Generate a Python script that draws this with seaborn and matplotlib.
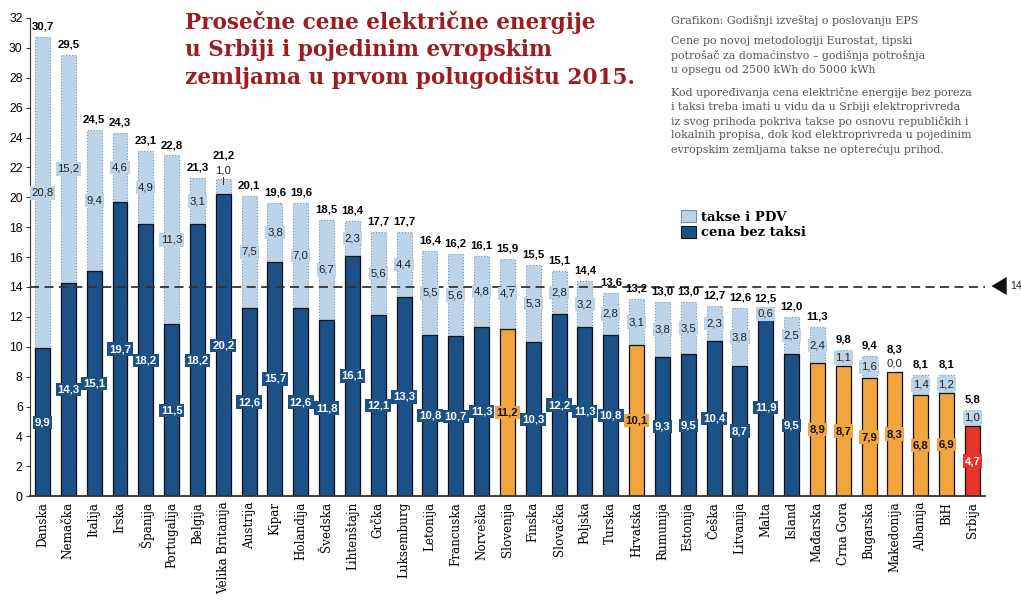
import matplotlib
matplotlib.use("Agg")
import matplotlib.pyplot as plt
import matplotlib.patches as mpatches
import seaborn as sns
import pandas as pd

# podaci sa grafikona (c/kWh), redosled kao na slici
countries = ["Danska", "Nemačka", "Italija", "Irska", "Španija", "Portugalija", "Belgija",
             "Velika Britanija", "Austrija", "Kipar", "Holandija", "Švedska", "Lihtenštajn",
             "Grčka", "Luksemburg", "Letonija", "Francuska", "Norveška", "Slovenija", "Finska",
             "Slovačka", "Poljska", "Turska", "Hrvatska", "Rumunija", "Estonija", "Češka",
             "Litvanija", "Malta", "Island", "Mađarska", "Crna Gora", "Bugarska", "Makedonija",
             "Albanija", "BiH", "Srbija"]
totals = [30.7, 29.5, 24.5, 24.3, 23.1, 22.8, 21.3, 21.2, 20.1, 19.6, 19.6, 18.5, 18.4,
          17.7, 17.7, 16.4, 16.2, 16.1, 15.9, 15.5, 15.1, 14.4, 13.6, 13.2, 13.0, 13.0, 12.7,
          12.6, 12.5, 12.0, 11.3, 9.8, 9.4, 8.3, 8.1, 8.1, 5.8]
base = [9.9, 14.3, 15.1, 19.7, 18.2, 11.5, 18.2, 20.2, 12.6, 15.7, 12.6, 11.8, 16.1,
        12.1, 13.3, 10.8, 10.7, 11.3, 11.2, 10.3, 12.2, 11.3, 10.8, 10.1, 9.3, 9.5, 10.4,
        8.7, 11.9, 9.5, 8.9, 8.7, 7.9, 8.3, 6.8, 6.9, 4.7]
taxes = [20.8, 15.2, 9.4, 4.6, 4.9, 11.3, 3.1, 1.0, 7.5, 3.8, 7.0, 6.7, 2.3,
         5.6, 4.4, 5.5, 5.6, 4.8, 4.7, 5.3, 2.8, 3.2, 2.8, 3.1, 3.8, 3.5, 2.3,
         3.8, 0.6, 2.5, 2.4, 1.1, 1.6, 0.0, 1.4, 1.2, 1.0]
groups = ["eu"] * 18 + ["reg"] + ["eu"] * 4 + ["reg"] + ["eu"] * 6 + ["reg"] * 6 + ["srb"]
average = 14

light = "#bcd4ea"
group_colors = {"eu": "#1b5186", "reg": "#f2a43f", "srb": "#e8332b"}
title_red = "#9c1c20"
lab_font = "Liberation Sans"

df = pd.DataFrame({"zemlja": countries, "ukupno": totals, "cena": base,
                   "takse": taxes, "grupa": groups})
base_palette = [group_colors[g] for g in groups]

fig = plt.figure(figsize=(10.21, 6.0), dpi=100)
ax = fig.add_axes([0.029, 0.173, 0.936, 0.797])

sns.barplot(data=df, x="zemlja", y="ukupno", color=light, width=0.58, ax=ax,
            edgecolor="#6f8fb0", linewidth=0.8, linestyle=":", saturation=1)
sns.barplot(data=df, x="zemlja", y="cena", hue="zemlja", palette=base_palette,
            legend=False, width=0.58, ax=ax, edgecolor="#111111", linewidth=0.9,
            saturation=1)

ax.set_xlim(-0.5, len(countries) - 0.5)
ax.set_ylim(0, 32)
ax.set_yticks(range(0, 33, 2))
ax.set_xlabel("")
ax.set_ylabel("")
sns.despine(ax=ax)
ax.spines["left"].set_color("#333333")
ax.spines["bottom"].set_color("#333333")
ax.spines["bottom"].set_linewidth(1.3)
ax.tick_params(axis="y", labelsize=8.8, length=3, color="#333333", pad=2)
for t in ax.get_yticklabels():
    t.set_family(lab_font)
ax.tick_params(axis="x", length=0, pad=4)
ax.set_xticks(range(len(countries)))
ax.set_xticklabels(countries, rotation=90, fontsize=8.6, family="DejaVu Serif",
                   va="top", ha="center")

ax.axhline(average, color="#333333", lw=1.3, ls=(0, (5, 3)), zorder=1.5, clip_on=False)


def fmt(v):
    return f"{v:.1f}".replace(".", ",")


lab = dict(ha="center", va="center", fontsize=8.2, family=lab_font)
for i, row in df.iterrows():
    top = row["ukupno"]
    col = group_colors[row["grupa"]]
    # oznaka ukupne cene (i taksi kad je segment premali)
    if row["zemlja"] == "Velika Britanija":
        ax.text(i, top + 0.6, fmt(row["takse"]), color="#222222", **lab)
        ax.plot([i, i], [top - 0.3, top + 0.15], color="#333333", lw=0.7)
        ax.text(i, top + 1.6, fmt(top), fontweight="bold", **lab)
    elif row["takse"] < 0.3:
        ax.text(i, top + 0.55, fmt(row["takse"]), color="#222222", **lab)
        ax.text(i, top + 1.5, fmt(top), fontweight="bold", **lab)
    else:
        ax.text(i, top + 0.7, fmt(top), fontweight="bold", **lab)
        ax.text(i, (row["cena"] + top) / 2, fmt(row["takse"]), color="#222222",
                bbox=dict(boxstyle="square,pad=0.15", fc=light, ec="none"), **lab)
    # oznaka cene bez taksi
    txt_col = "#111111" if row["grupa"] == "reg" else "white"
    ax.text(i, row["cena"] / 2, fmt(row["cena"]), color=txt_col, fontweight="bold",
            bbox=dict(boxstyle="square,pad=0.15", fc=col, ec="none"), **lab)

# strelica i oznaka proseka desno
tri = mpatches.Polygon([[0.971, 0.5233], [0.986, 0.5383], [0.986, 0.5083]], closed=True,
                       fc="#111111", ec="none", transform=fig.transFigure)
fig.patches.append(tri)
fig.text(0.989, 0.5233, "14", fontsize=7.5, va="center", ha="left", color="#222222",
         family=lab_font)

# naslov
fig.text(0.181, 0.982, "Prosečne cene električne energije\nu Srbiji i pojedinim evropskim\n"
         "zemljama u prvom polugodištu 2015.", family="DejaVu Serif", fontweight="bold",
         fontsize=15.6, color=title_red, va="top", ha="left", linespacing=1.3)

# napomene
note_kw = dict(family="DejaVu Serif", fontsize=7.9, color="#555555", va="top", ha="left",
               linespacing=1.45)
fig.text(0.657, 0.975, "Grafikon: Godišnji izveštaj o poslovanju EPS", **note_kw)
fig.text(0.657, 0.94, "Cene po novoj metodologiji Eurostat, tipski\n"
         "potrošač za domaćinstvo – godišnja potrošnja\nu opsegu od 2500 kWh do 5000 kWh",
         **note_kw)
fig.text(0.657, 0.855, "Kod upoređivanja cena električne energije bez poreza\n"
         "i taksi treba imati u vidu da u Srbiji elektroprivreda\n"
         "iz svog prihoda pokriva takse po osnovu republičkih i\n"
         "lokalnih propisa, dok kod elektroprivreda u pojedinim\n"
         "evropskim zemljama takse ne opterećuju prihod.", **note_kw)

handles = [mpatches.Patch(fc=light, ec="#6f8fb0", lw=0.8, label="takse i PDV"),
           mpatches.Patch(fc=group_colors["eu"], ec="#111111", lw=0.8, label="cena bez taksi")]
fig.legend(handles=handles, loc="upper left", bbox_to_anchor=(0.662, 0.658), frameon=False,
           prop=dict(family="DejaVu Serif", weight="bold", size=9.5), handlelength=1.1,
           handleheight=1.0, handletextpad=0.4, labelspacing=0.15, borderaxespad=0)

fig.savefig("out.png", dpi=100)
